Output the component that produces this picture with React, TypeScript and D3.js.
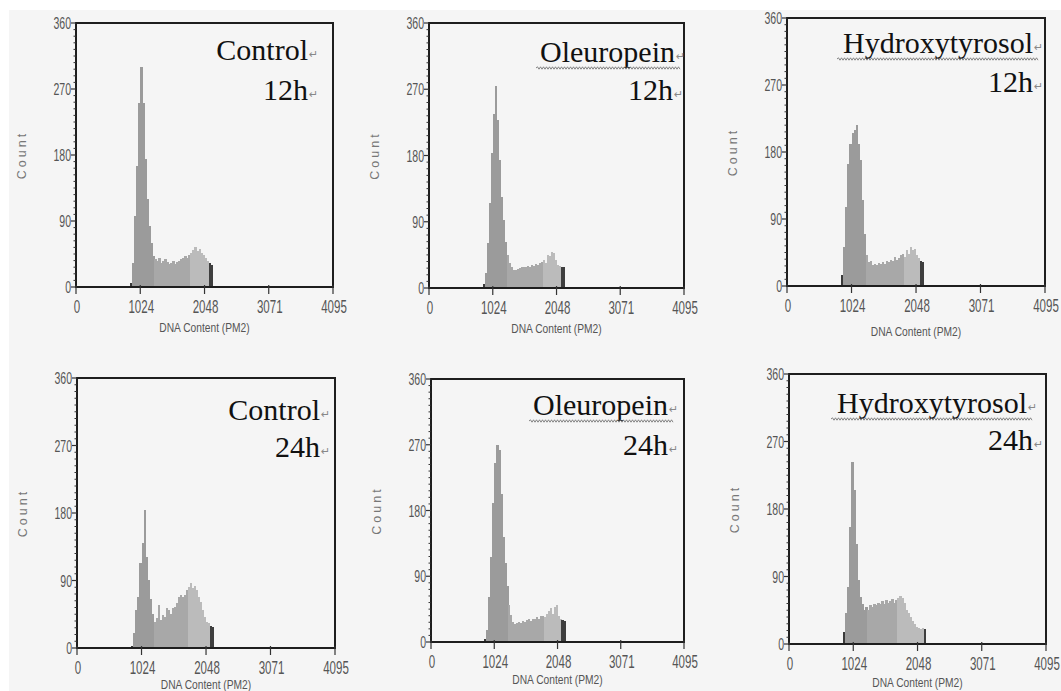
import React from 'react';
import * as d3 from 'd3';

// DNA content histograms, bins of 32 channels starting at channel 864
const BIN_START = 864;
const BIN_WIDTH = 32;

const xTicks = [0, 1024, 2048, 3071, 4095];
const yTicks = [0, 90, 180, 270, 360];

const control12h = [6, 33, 97, 165, 251, 300, 251, 174, 120, 83, 60, 42, 38, 35, 40, 33, 36, 38, 34, 31, 33, 35, 32, 34, 36, 38, 40, 42, 39, 44, 47, 51, 54, 49, 52, 47, 44, 40, 35, 33, 30];
const oleuropein12h = [5, 20, 61, 115, 183, 237, 274, 228, 174, 124, 92, 63, 45, 34, 28, 24, 25, 26, 27, 28, 29, 28, 30, 29, 31, 30, 32, 31, 34, 36, 38, 34, 45, 43, 49, 47, 38, 31, 30, 29, 28];
const hydroxy12h = [15, 52, 106, 164, 191, 205, 209, 216, 191, 169, 115, 70, 41, 32, 34, 28, 30, 28, 31, 29, 32, 30, 34, 32, 35, 34, 39, 35, 37, 41, 43, 39, 48, 43, 52, 48, 50, 41, 37, 34, 32];
const control24h = [3, 20, 51, 68, 113, 140, 184, 122, 91, 66, 46, 35, 40, 57, 37, 44, 42, 53, 51, 46, 53, 55, 60, 68, 71, 68, 71, 77, 82, 87, 80, 83, 77, 68, 62, 51, 42, 35, 34, 30, 28];
const oleuropein24h = [4, 16, 62, 117, 190, 245, 270, 263, 203, 144, 108, 76, 51, 37, 28, 25, 26, 28, 26, 29, 28, 30, 31, 29, 32, 31, 34, 32, 35, 36, 34, 39, 42, 47, 39, 48, 51, 35, 31, 30, 29];
const hydroxy24h = [16, 41, 76, 156, 243, 205, 134, 85, 63, 54, 45, 49, 45, 52, 50, 54, 52, 55, 53, 57, 54, 59, 55, 58, 60, 55, 59, 62, 64, 61, 55, 46, 41, 36, 31, 27, 23, 21, 20, 22, 20];

// gate channels: [end of G1 colour, end of S colour, start of dark end bars]
const gates = [
  [1248, 1824, 2096],
  [1248, 1824, 2112],
  [1248, 1840, 2112],
  [1216, 1744, 2112],
  [1248, 1824, 2112],
  [1248, 1712, 2144],
];

const treatments = ['Control', 'Oleuropein', 'Hydroxytyrosol', 'Control', 'Oleuropein', 'Hydroxytyrosol'];
const times = ['12h', '12h', '12h', '24h', '24h', '24h'];
const series = [control12h, oleuropein12h, hydroxy12h, control24h, oleuropein24h, hydroxy24h];

// panel frames and label placement
const layout = [
  { left: 76, top: 23, right: 333, bottom: 287, titleBase: 332, nameRight: 308, nameBase: 60, timeRight: 308, timeBase: 100, wavy: false },
  { left: 429, top: 23, right: 684, bottom: 288, titleBase: 333, nameRight: 675, nameBase: 62, timeRight: 673, timeBase: 100, wavy: true },
  { left: 787, top: 18, right: 1045, bottom: 286, titleBase: 336, nameRight: 1033, nameBase: 53, timeRight: 1033, timeBase: 92, wavy: true },
  { left: 77, top: 378, right: 335, bottom: 648, titleBase: 689, nameRight: 320, nameBase: 420, timeRight: 320, timeBase: 457, wavy: false },
  { left: 431, top: 379, right: 684, bottom: 642, titleBase: 684, nameRight: 668, nameBase: 415, timeRight: 668, timeBase: 455, wavy: true },
  { left: 789, top: 374, right: 1046, bottom: 644, titleBase: 687, nameRight: 1027, nameBase: 413, timeRight: 1033, timeBase: 450, wavy: true },
];

const COLORS = { start: '#3a3a3a', g1: '#9b9b9b', s: '#a8a8a8', g2: '#bbbbbb', end: '#3e3e3e' };
const SERIF = 'Liberation Serif, Times New Roman, serif';
const SANS = 'Liberation Sans, Arial, sans-serif';

function wavyPath(x0: number, x1: number, y: number) {
  let d = `M${x0},${y}`;
  let up = true;
  for (let x = x0 + 1.5; x <= x1; x += 1.5) {
    d += ` L${x},${y + (up ? -1.2 : 1.2)}`;
    up = !up;
  }
  return d;
}

function Panel({ idx }: { idx: number }) {
  const L = layout[idx];
  const values = series[idx];
  const [gG1, gS, gEnd] = gates[idx];
  const x = d3.scaleLinear().domain([0, 4095]).range([L.left, L.right]);
  const y = d3.scaleLinear().domain([0, 360]).range([L.bottom, L.top]);
  const minor = d3.range(0, 361, 9).filter((v) => v % 90 !== 0);

  const color = (i: number, c0: number) => {
    if (i === 0) return COLORS.start;
    if (c0 >= gEnd) return COLORS.end;
    if (c0 >= gS) return COLORS.g2;
    if (c0 >= gG1) return COLORS.s;
    return COLORS.g1;
  };

  const nameWidth = treatments[idx] === 'Oleuropein' ? 139 : 196;

  return (
    <g>
      {/* histogram */}
      <g shapeRendering="crispEdges">
        {values.map((v, i) => {
          const c0 = BIN_START + i * BIN_WIDTH;
          const x0 = x(c0);
          const x1 = x(c0 + BIN_WIDTH);
          return (
            <rect key={i} x={x0} y={y(v)} width={x1 - x0 + 0.4} height={y(0) - y(v)} fill={color(i, c0)} />
          );
        })}
      </g>

      {/* frame */}
      <rect x={L.left} y={L.top} width={L.right - L.left} height={L.bottom - L.top} fill="none" stroke="#1e1e1e" strokeWidth={2} />

      {/* y axis ticks */}
      {minor.map((v) => (
        <line key={'m' + v} x1={L.left - 2.5} x2={L.left} y1={y(v)} y2={y(v)} stroke="#333" strokeWidth={1} />
      ))}
      {yTicks.map((v) => (
        <g key={'y' + v}>
          <line x1={L.left - 5} x2={L.left} y1={y(v)} y2={y(v)} stroke="#333" strokeWidth={1.2} />
          <g transform={`translate(${L.left - 5},${y(v)}) scale(0.62,1)`}>
            <text textAnchor="end" dy="0.36em" fontSize={17} fontFamily={SANS} fill="#555">
              {v}
            </text>
          </g>
        </g>
      ))}

      {/* x axis ticks */}
      {xTicks.map((v) => (
        <g key={'x' + v}>
          <line x1={x(v)} x2={x(v)} y1={L.bottom - 2} y2={L.bottom + 7} stroke="#333" strokeWidth={1.2} />
          <g transform={`translate(${x(v) + 1},${L.bottom + 26}) scale(0.66,1)`}>
            <text textAnchor="middle" fontSize={17.5} fontFamily={SANS} fill="#555">
              {v}
            </text>
          </g>
        </g>
      ))}

      {/* axis titles */}
      <g transform={`translate(${(L.left + L.right) / 2},${L.titleBase}) scale(0.8,1)`}>
        <text textAnchor="middle" fontSize={12.8} fontFamily={SANS} fill="#555">
          DNA Content (PM2)
        </text>
      </g>
      <text
        transform={`translate(${L.left - 50},${(L.top + L.bottom) / 2}) rotate(-90)`}
        textAnchor="middle"
        fontSize={12.5}
        letterSpacing={3}
        fontFamily={SANS}
        fill="#777"
      >
        Count
      </text>

      {/* labels */}
      <text x={L.nameRight} y={L.nameBase} textAnchor="end" fontSize={30} fontFamily={SERIF} fill="#111">
        {treatments[idx]}
      </text>
      <text x={L.nameRight + 1} y={L.nameBase - 2} fontSize={11} fontFamily="DejaVu Sans" fill="#888">
        ↵
      </text>
      {L.wavy && (
        <path
          d={wavyPath(L.nameRight - nameWidth, L.nameRight + 6, L.nameBase + 6)}
          fill="none"
          stroke="#777"
          strokeWidth={0.9}
        />
      )}
      <text x={L.timeRight} y={L.timeBase} textAnchor="end" fontSize={30} fontFamily={SERIF} fill="#111">
        {times[idx]}
      </text>
      <text x={L.timeRight + 1} y={L.timeBase - 2} fontSize={11} fontFamily="DejaVu Sans" fill="#888">
        ↵
      </text>
    </g>
  );
}

export default function App() {
  return (
    <svg width={1061} height={691} style={{ position: 'absolute', left: 0, top: 0, background: '#fff' }}>
      <rect x={9} y={10} width={1052} height={681} fill="#f5f5f5" />
      {layout.map((_, i) => (
        <Panel key={i} idx={i} />
      ))}
    </svg>
  );
}
